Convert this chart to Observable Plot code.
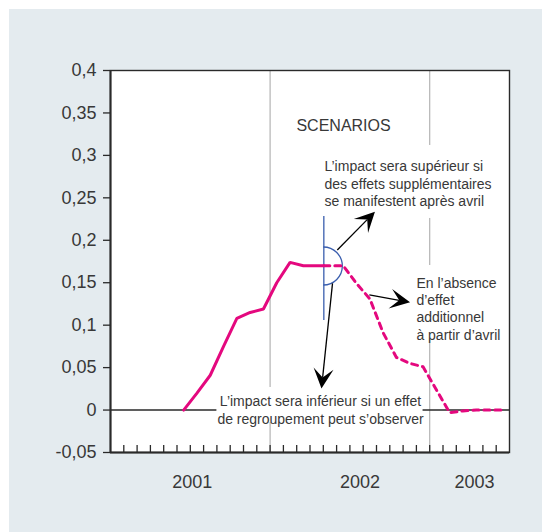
<!DOCTYPE html>
<html><head><meta charset="utf-8">
<script src="https://cdn.jsdelivr.net/npm/d3@7"></script>
<script src="https://cdn.jsdelivr.net/npm/@observablehq/plot@0.6"></script>
<style>
body{margin:0;background:#fff;}
#chart{padding:9px 0 0 9px;line-height:0;}
</style></head><body><div id="chart"></div>
<script>
// ---- data ----
const tickMonths = d3.range(1, 30);
const yTicks = [-0.05, 0, 0.05, 0.1, 0.15, 0.2, 0.25, 0.3, 0.35, 0.4];
const years = ["2001", "2002", "2003"];
const yearPos = [6.14, 18.76, 27.37];
const yearRules = [12, 24];

const solidMonth = [5.5, 6.5, 7.5, 8.5, 9.5, 10.5, 11.5, 12.5, 13.5, 14.5, 15.5, 16.04];
const solidValue = [0, 0.020, 0.041, 0.075, 0.108, 0.115, 0.119, 0.150, 0.174, 0.170, 0.170, 0.170];
const dashMonth = [16.04, 17.5, 18.5, 19.5, 20.5, 21.5, 22.5, 23.5, 24.5, 25.5, 26.5, 27.5, 28.5, 29.5];
const dashValue = [0.170, 0.170, 0.149, 0.131, 0.091, 0.062, 0.055, 0.051, 0.024, -0.003, -0.001, 0, 0, 0];

const titleLabel = [{x: 13.98, y: 0.3346, text: "SCENARIOS"}];
const leftLabels = [
  {x: 16.09, y: 0.2675, text: "L’impact sera supérieur si\ndes effets supplémentaires\nse manifestent après avril"},
  {x: 23.0, y: 0.1202, text: "En l’absence\nd’effet\nadditionnel\nà partir d’avril"}
];
const centerLabels = [
  {x: 15.79, y: 0.001, text: "L’impact sera inférieur si un effet\nde regroupement peut s’observer"}
];
const boxes = [
  {x1: 15.79, x2: 28.72, y1: 0.2257, y2: 0.3117},
  {x1: 22.7, x2: 29.32, y1: 0.0831, y2: 0.1703},
  {x1: 8.0, x2: 23.5, y1: -0.0146, y2: 0.0266}
];
const blueRule = {x: 16.04, y1: 0.1055, y2: 0.228};
const blueArc = {x: 16.04, y: 0.1691};
const arrows = [
  {x1: 17.09, y1: 0.188, x2: 19.92, y2: 0.233},
  {x1: 19.5, y1: 0.135, x2: 22.56, y2: 0.1264},
  {x1: 16.73, y1: 0.1487, x2: 15.9, y2: 0.0248}
];

const solid = solidMonth.map((m, i) => ({m, v: solidValue[i]}));
const dashed = dashMonth.map((m, i) => ({m, v: dashValue[i]}));
const years3 = years.map((t, i) => ({t, x: yearPos[i]}));

const MAGENTA = "#e4087e", BLUE = "#3a5eae", INK = "#2a2a2a", TXT = "#383838";
const FONT = "Liberation Sans, Arial, sans-serif";
const fmt = v => v === 0 ? "0" : String(+v.toFixed(2)).replace(".", ",");

function arcMark(index, scales) {
  const cx = scales.x(blueArc.x), cy = scales.y(blueArc.y), r = 19;
  const g = d3.create("svg:g");
  g.append("path").attr("d", `M${cx},${cy - r}A${r},${r} 0 0 1 ${cx},${cy + r}`)
    .attr("fill", "none").attr("stroke", BLUE).attr("stroke-width", 1.3);
  return g.node();
}
function arrowMark(index, scales) {
  const g = d3.create("svg:g");
  for (const a of arrows) {
    const x1 = scales.x(a.x1), y1 = scales.y(a.y1), x2 = scales.x(a.x2), y2 = scales.y(a.y2);
    const dx = x2 - x1, dy = y2 - y1, len = Math.hypot(dx, dy);
    const ux = dx / len, uy = dy / len, nx = -uy, ny = ux;
    const L = 20, W = 10, N = 11;
    g.append("line").attr("x1", x1).attr("y1", y1)
      .attr("x2", x2 - ux * N).attr("y2", y2 - uy * N)
      .attr("stroke", "#000").attr("stroke-width", 1.3);
    const pts = [
      [x2, y2],
      [x2 - ux * L + nx * W, y2 - uy * L + ny * W],
      [x2 - ux * N, y2 - uy * N],
      [x2 - ux * L - nx * W, y2 - uy * L - ny * W]
    ];
    g.append("path").attr("d", "M" + pts.map(p => p.join(",")).join("L") + "Z").attr("fill", "#000");
  }
  return g.node();
}

const chart = Plot.plot({
  width: 533,
  height: 523,
  marginLeft: 101,
  marginTop: 61,
  marginRight: 33,
  marginBottom: 80,
  style: {background: "#e4ebef", fontFamily: FONT, fontSize: "18px", color: "#333"},
  x: {domain: [0, 30], axis: null},
  y: {domain: [-0.05, 0.4], axis: null},
  marks: [
    Plot.frame({fill: "white"}),
    Plot.ruleX(yearRules, {stroke: "#b4b4b4", strokeWidth: 1.2}),
    Plot.ruleY([0], {stroke: INK, strokeWidth: 1.4}),
    Plot.rect(boxes, {x1: "x1", x2: "x2", y1: "y1", y2: "y2", fill: "white"}),
    Plot.tickX(tickMonths, {x: d => d, stroke: INK, strokeWidth: 1.3, insetTop: 375}),
    Plot.ruleX([blueRule], {x: "x", y1: "y1", y2: "y2", stroke: BLUE, strokeWidth: 1.3}),
    arcMark,
    Plot.line(solid, {x: "m", y: "v", stroke: MAGENTA, strokeWidth: 3, strokeLinejoin: "miter"}),
    Plot.line(dashed, {x: "m", y: "v", stroke: MAGENTA, strokeWidth: 3, strokeDasharray: "6,5"}),
    arrowMark,
    Plot.text(titleLabel, {x: "x", y: "y", text: "text", textAnchor: "start", fontSize: 16, fill: TXT}),
    Plot.text(leftLabels, {x: "x", y: "y", text: "text", textAnchor: "start", fontSize: 14,
      lineHeight: 1.24, lineAnchor: "middle", fill: TXT}),
    Plot.text(centerLabels, {x: "x", y: "y", text: "text", textAnchor: "middle", fontSize: 14,
      lineHeight: 1.29, lineAnchor: "middle", fill: TXT}),
    Plot.text(years3, {x: "x", y: () => -0.0847, text: "t", fontSize: 18, fill: TXT}),
    Plot.axisY(yTicks, {tickFormat: fmt, tickSize: 7, tickPadding: 7, fontSize: 18, stroke: INK, fill: TXT, strokeWidth: 1.3, label: null}),
    Plot.frame({stroke: INK, strokeWidth: 1.4}),
    Plot.ruleX([0], {stroke: INK, strokeWidth: 2}),
    Plot.ruleY([-0.05], {stroke: INK, strokeWidth: 2.2})
  ]
});
document.getElementById("chart").appendChild(chart);
</script>
</body></html>
